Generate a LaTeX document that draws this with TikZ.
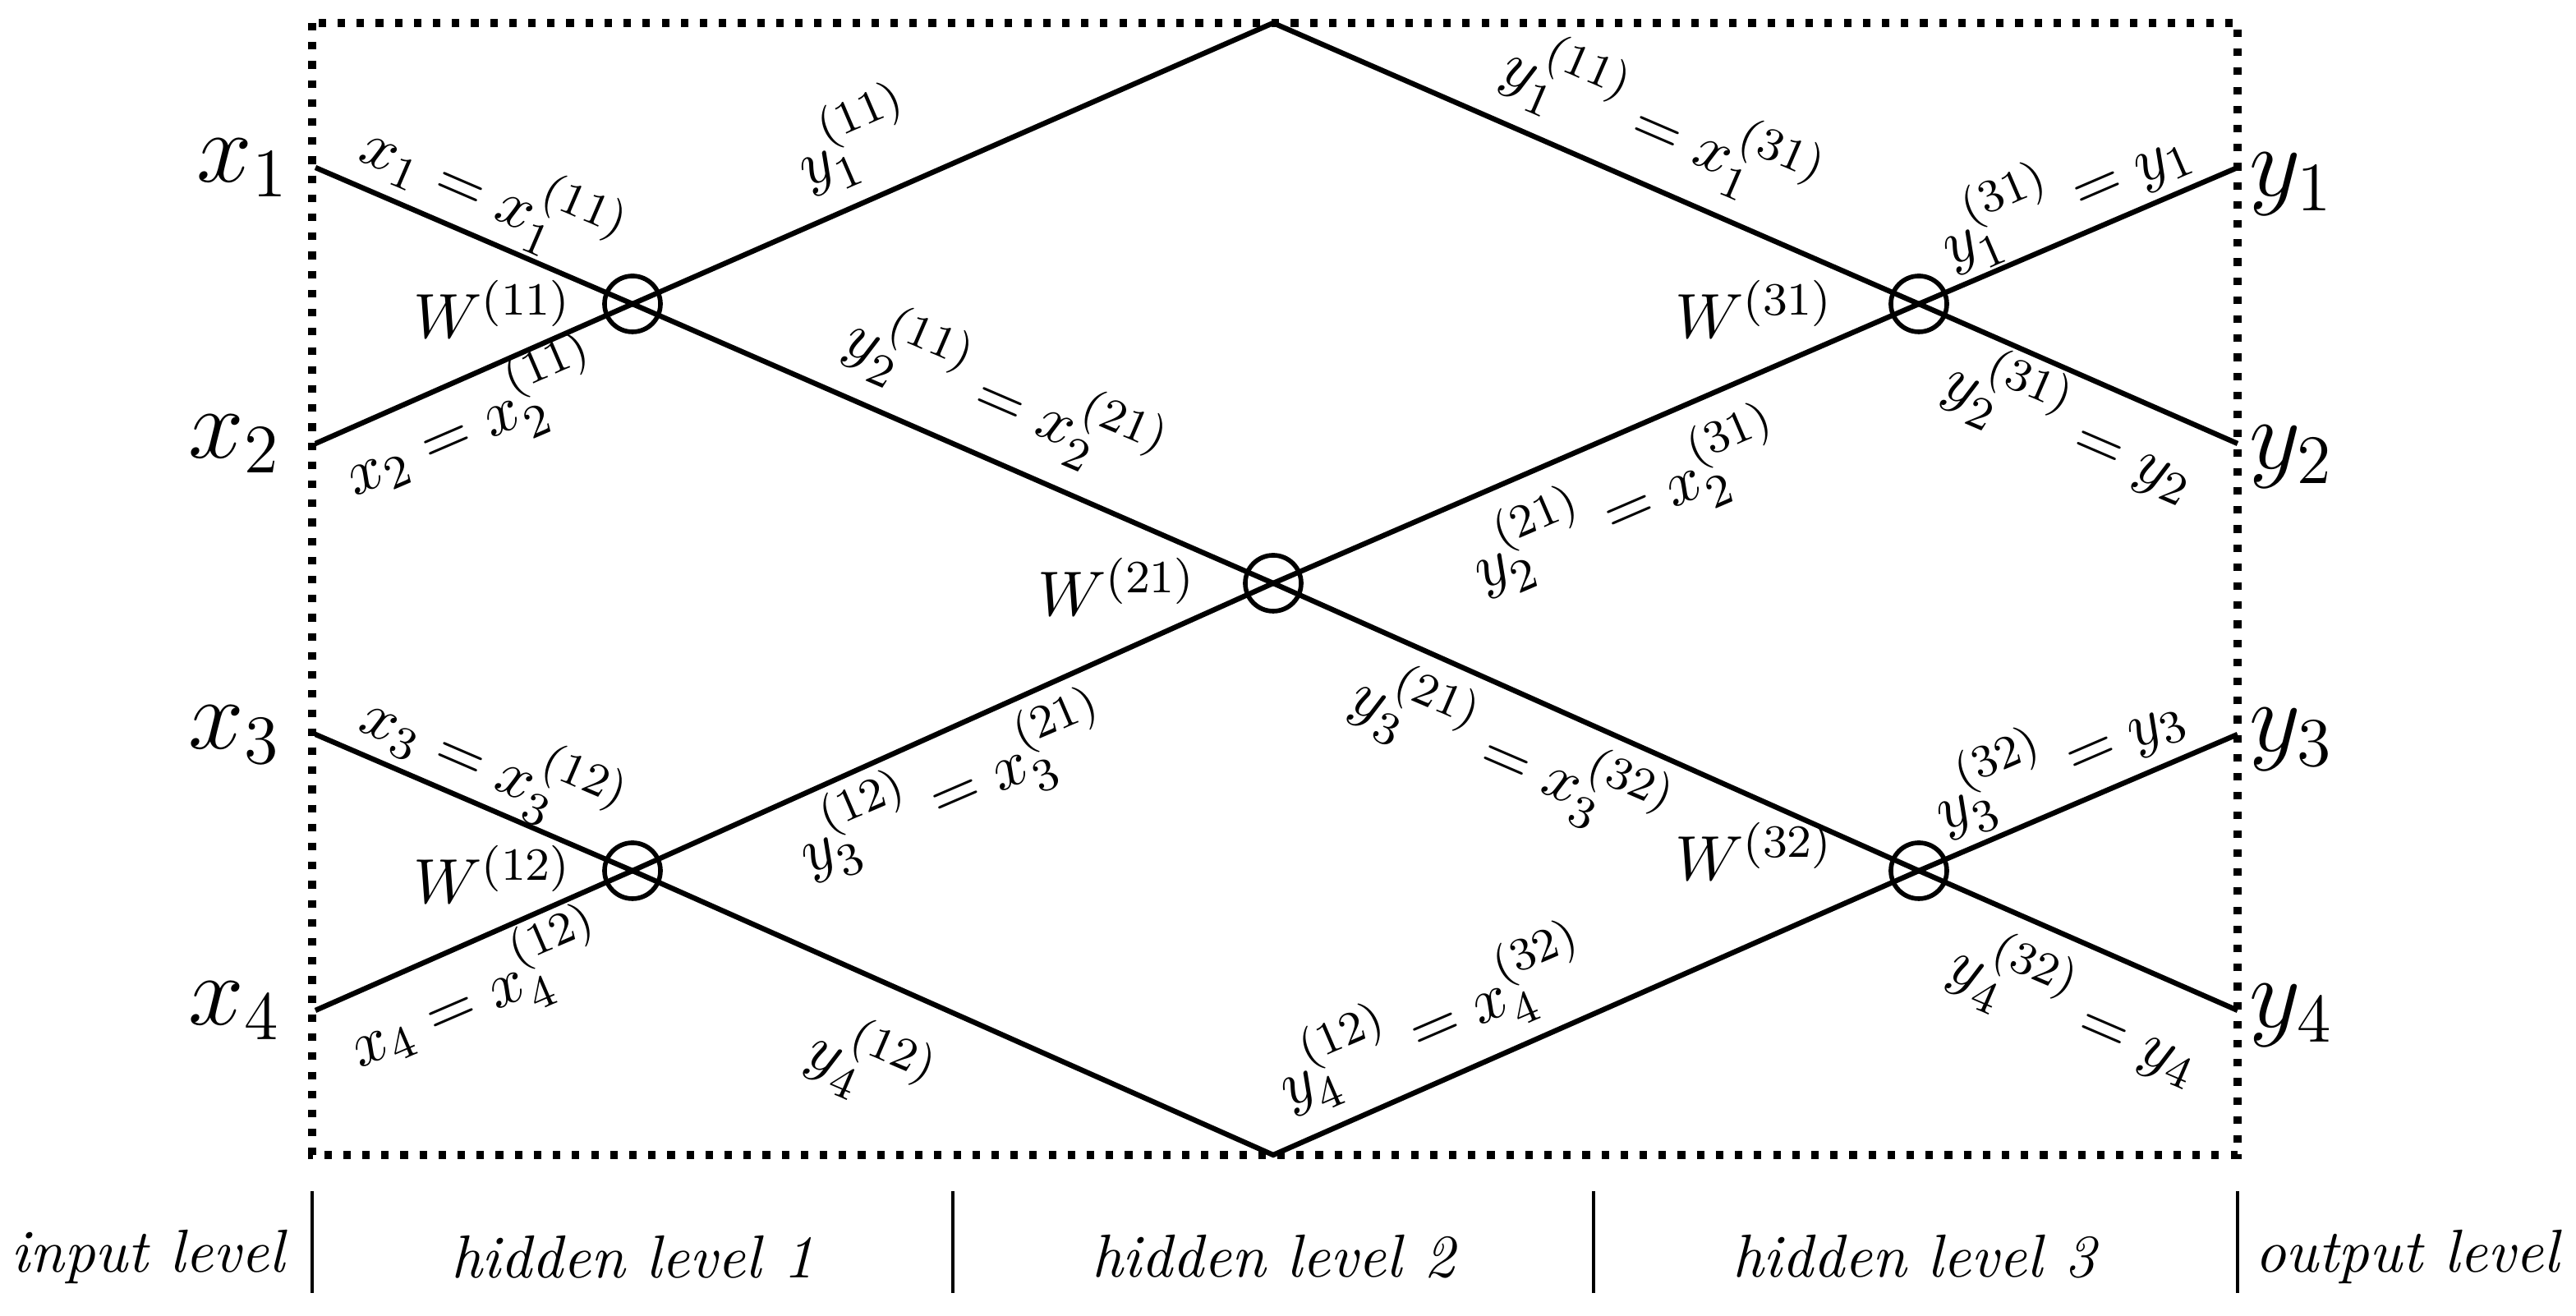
\documentclass[tikz,border=0pt]{standalone}
\begin{document}
\begin{tikzpicture}[x=0.01cm,y=-0.01cm,
  ln/.style={line width=0.9pt},
  wc/.style={circle,draw,line width=0.8pt,minimum size=0.34cm,inner sep=0pt},
  big/.style={font=\fontsize{17}{20}\selectfont},
  el/.style={font=\fontsize{11}{13}\selectfont,inner sep=1pt},
  lv/.style={font=\fontsize{10.5}{12}\selectfont\itshape}]
\useasboundingbox (0,0) rectangle (1568,801);
\draw[line width=1.3pt,dotted] (190,14) rectangle (1362,703);
\coordinate (i1) at (192,102); \coordinate (i2) at (192,270);
\coordinate (i3) at (192,447); \coordinate (i4) at (192,615);
\coordinate (o1) at (1362,102); \coordinate (o2) at (1362,270);
\coordinate (o3) at (1362,447); \coordinate (o4) at (1362,615);
\coordinate (top) at (775,14); \coordinate (bot) at (775,703);
\node[wc] (w11) at (385,185) {}; \node[wc] (w12) at (385,530) {};
\node[wc] (w21) at (775,355) {};
\node[wc] (w31) at (1168,185) {}; \node[wc] (w32) at (1168,530) {};
\draw[ln] (i1) -- (w11.center) -- (w21.center) -- (w32.center) -- (o4);
\draw[ln] (i2) -- (w11.center) -- (top) -- (w31.center) -- (o2);
\draw[ln] (i4) -- (w12.center) -- (w21.center) -- (w31.center) -- (o1);
\draw[ln] (i3) -- (w12.center) -- (bot) -- (w32.center) -- (o3);
\node[big] (lx1) at (148,102) {$x_1$}; \node[big] (lx2) at (143,270) {$x_2$};
\node[big] (lx3) at (143,447) {$x_3$}; \node[big] (lx4) at (143,615) {$x_4$};
\node[big] (ly1) at (1395,112) {$y_1$}; \node[big] (ly2) at (1395,278) {$y_2$};
\node[big] (ly3) at (1395,450) {$y_3$}; \node[big] (ly4) at (1395,618) {$y_4$};
\node[el] (a1) at (300,116) [rotate=-23.3] {$x_1=x_1^{(11)}$};
\node[el] (a2) at (520,85) [rotate=23.3] {$y_1^{(11)}$};
\node[el] (a3) at (300,188) {$W^{(11)}$};
\node[el] (a4) at (287,255) [rotate=23.3] {$x_2=x_2^{(11)}$};
\node[el] (a5) at (612,240) [rotate=-23.3] {$y_2^{(11)}=x_2^{(21)}$};
\node[el] (a6) at (1012,75) [rotate=-23.3] {$y_1^{(11)}=x_1^{(31)}$};
\node[el] (a7) at (1256,116) [rotate=23.3] {$y_1^{(31)}=y_1$};
\node[el] (a8) at (1068,188) {$W^{(31)}$};
\node[el] (a9) at (1262,258) [rotate=-23.3] {$y_2^{(31)}=y_2$};
\node[el] (a10) at (680,357) {$W^{(21)}$};
\node[el] (a11) at (990,305) [rotate=23.3] {$y_2^{(21)}=x_2^{(31)}$};
\node[el] (a12) at (300,463) [rotate=-23.3] {$x_3=x_3^{(12)}$};
\node[el] (a13) at (300,532) {$W^{(12)}$};
\node[el] (a14) at (290,603) [rotate=23.3] {$x_4=x_4^{(12)}$};
\node[el] (a15) at (580,478) [rotate=23.3] {$y_3^{(12)}=x_3^{(21)}$};
\node[el] (a16) at (530,648) [rotate=-23.3] {$y_4^{(12)}$};
\node[el] (a17) at (920,458) [rotate=-23.3] {$y_3^{(21)}=x_3^{(32)}$};
\node[el] (a18) at (1252,460) [rotate=23.3] {$y_3^{(32)}=y_3$};
\node[el] (a19) at (1068,518) {$W^{(32)}$};
\node[el] (a20) at (1265,613) [rotate=-23.3] {$y_4^{(32)}=y_4$};
\node[el] (a21) at (872,620) [rotate=23.3] {$y_4^{(12)}=x_4^{(32)}$};
\foreach \x/\n in {190/s1,580/s2,970/s3,1362/s4}{
  \coordinate (\n a) at (\x,725); \coordinate (\n b) at (\x,787);
  \draw[line width=0.5pt] (\n a) -- (\n b);}
\node[lv] (b1) at (90,765) {input level};
\node[lv] (b2) at (385,765) {hidden level 1};
\node[lv] (b3) at (775,765) {hidden level 2};
\node[lv] (b4) at (1165,765) {hidden level 3};
\node[lv] (b5) at (1465,765) {output level};
\end{tikzpicture}
\end{document}
